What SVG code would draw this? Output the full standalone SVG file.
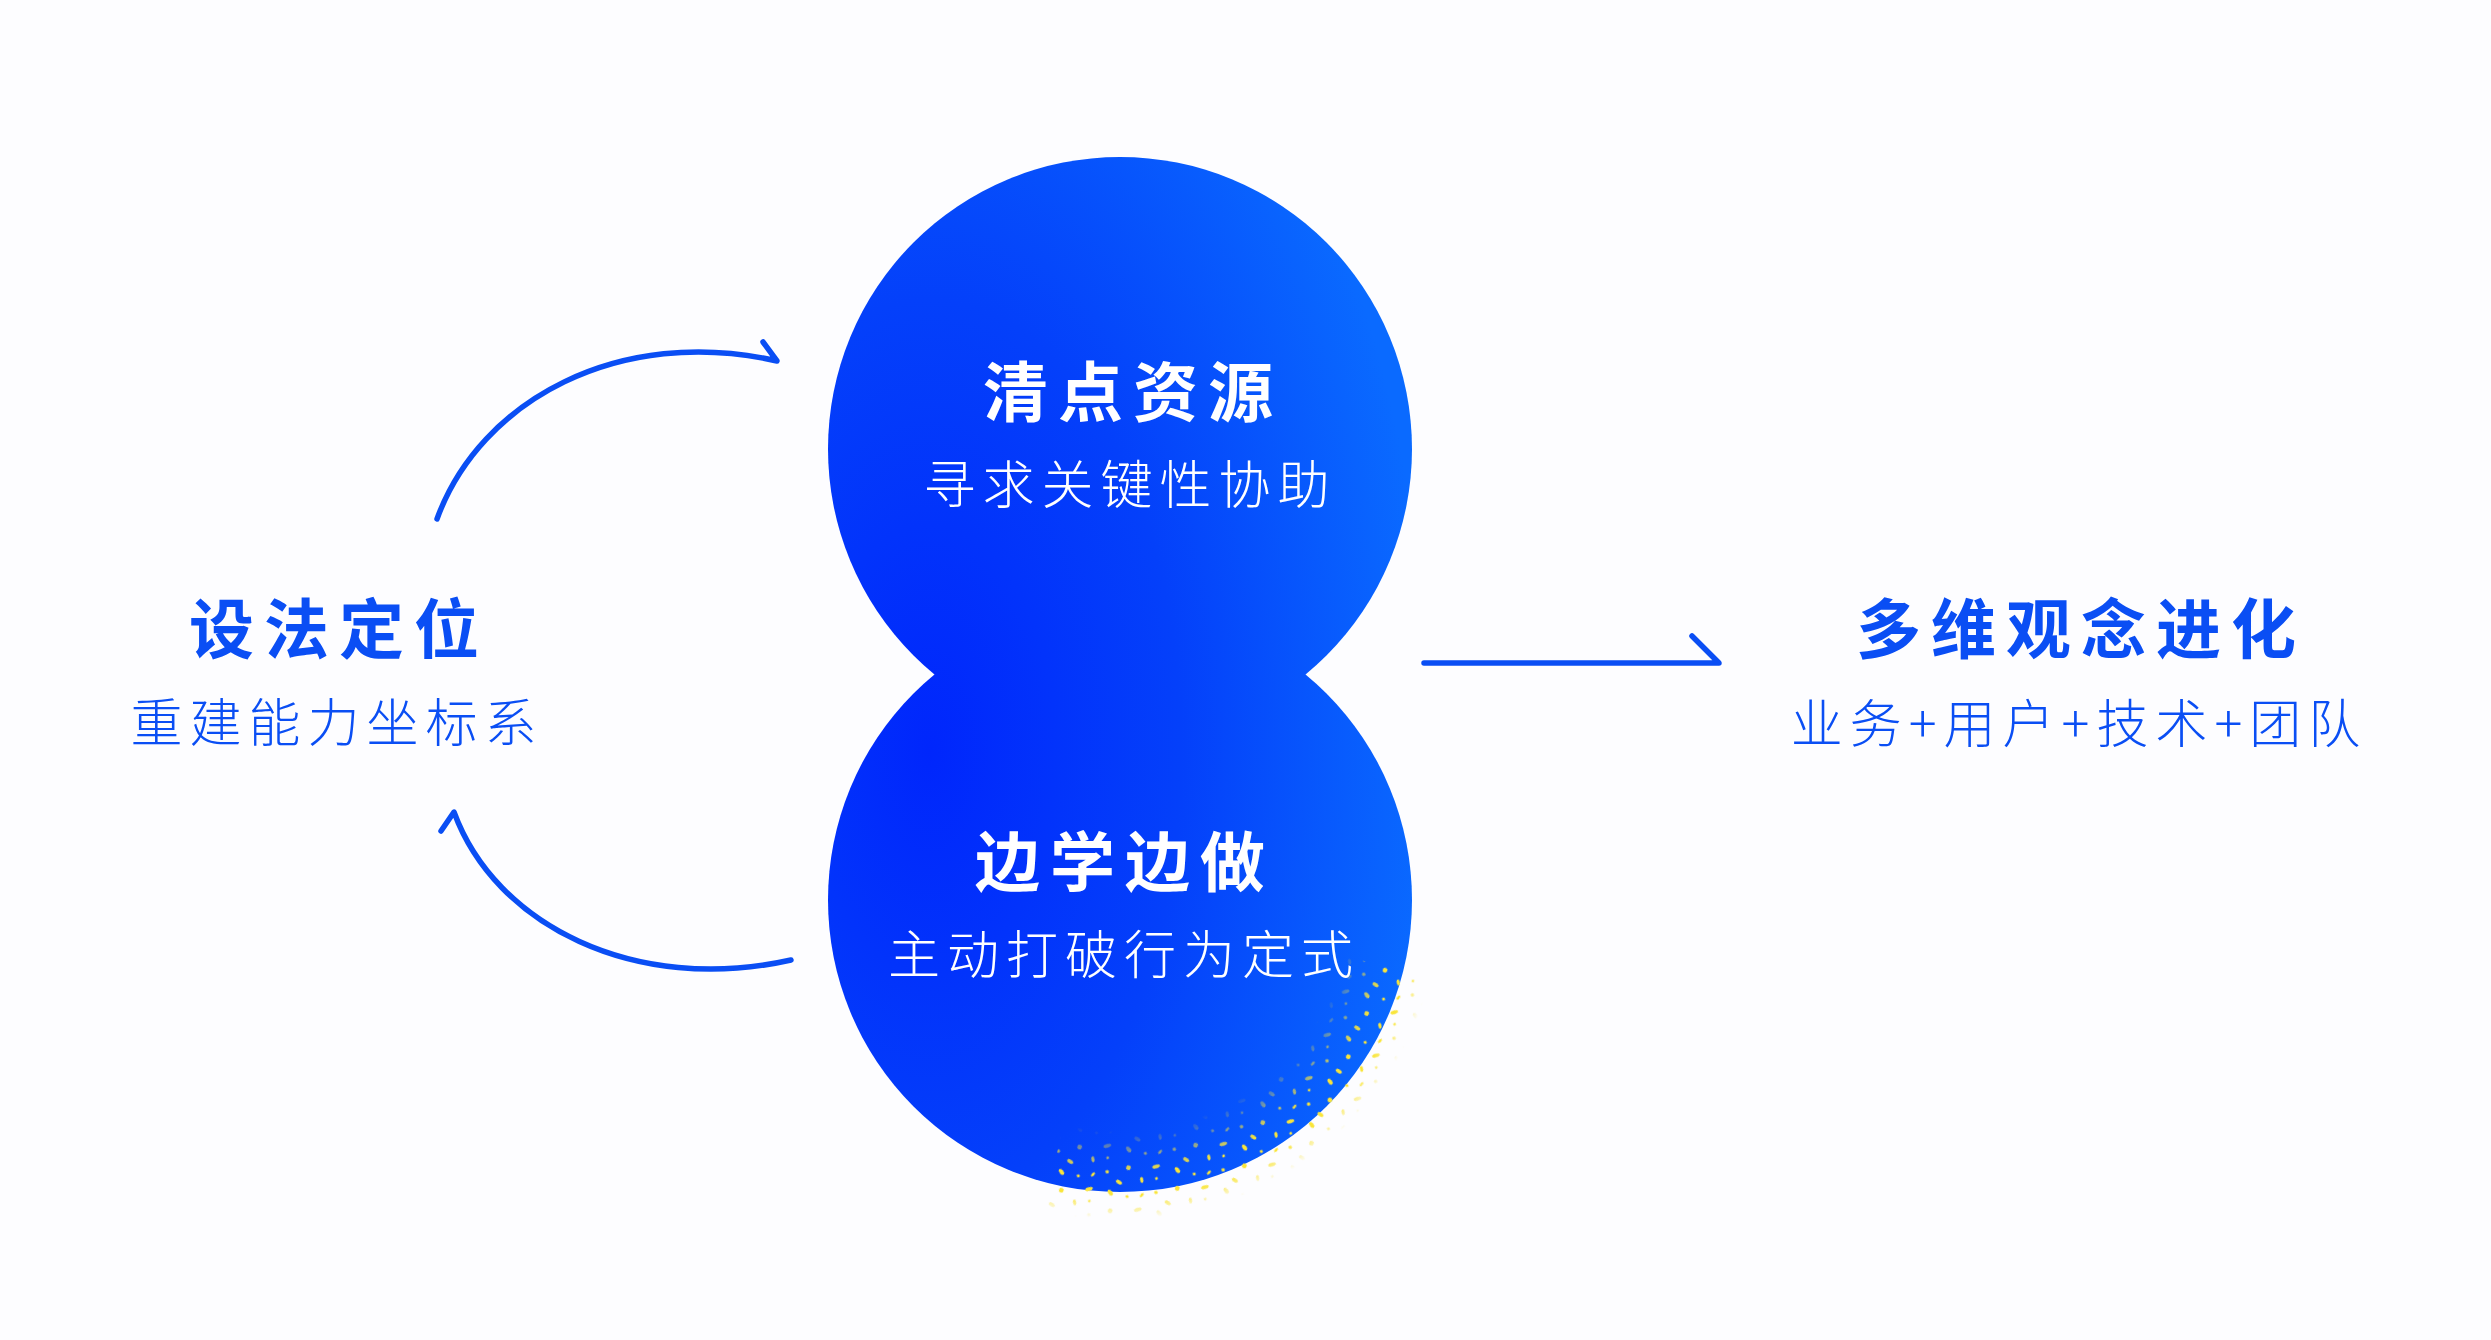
<svg xmlns="http://www.w3.org/2000/svg" width="2491" height="1340" viewBox="0 0 2491 1340">
  <style>
    .cjk { font-family: "Noto Sans CJK SC", "Noto Sans", sans-serif; text-anchor: middle; }
    .title { font-size: 65px; font-weight: 700; letter-spacing: 10px; }
    .sub { font-size: 52px; font-weight: 300; letter-spacing: 7px; }
    .white { fill: #ffffff; }
    .blue { fill: #0a4ef4; }
    .conn { fill: none; stroke: #0a4ef4; stroke-width: 5.5; stroke-linecap: round; stroke-linejoin: round; }
    .dot { fill: #f9e53a; }
  </style>
  <defs>
    <radialGradient id="blob" gradientUnits="userSpaceOnUse" cx="930" cy="750" r="500" gradientTransform="translate(930 750) scale(1 1.8) translate(-930 -750)">
      <stop offset="0" stop-color="#0026fc"/>
      <stop offset="0.5" stop-color="#0440fa"/>
      <stop offset="1" stop-color="#0a6aff"/>
    </radialGradient>
    <pattern id="dots" patternUnits="userSpaceOnUse" width="53" height="47" patternTransform="rotate(23)">
      <ellipse class="dot" cx="4" cy="6" rx="3.4" ry="2" transform="rotate(30 4 6)"/>
      <circle class="dot" cx="21" cy="3" r="1.6"/>
      <ellipse class="dot" cx="36" cy="11" rx="4" ry="1.8" transform="rotate(-40 36 11)"/>
      <circle class="dot" cx="11" cy="23" r="2.4"/>
      <ellipse class="dot" cx="28" cy="29" rx="3" ry="1.6" transform="rotate(60 28 29)"/>
      <circle class="dot" cx="46" cy="35" r="1.8"/>
      <ellipse class="dot" cx="8" cy="40" rx="3.4" ry="1.8" transform="rotate(10 8 40)"/>
      <circle class="dot" cx="41" cy="22" r="1.4"/>
      <ellipse class="dot" cx="34" cy="43" rx="2.6" ry="1.3" transform="rotate(-70 34 43)"/>
    </pattern>
    <radialGradient id="ringFade" gradientUnits="userSpaceOnUse" cx="1120" cy="900" r="330">
      <stop offset="0.70" stop-color="#000"/>
      <stop offset="0.83" stop-color="#fff"/>
      <stop offset="0.90" stop-color="#fff"/>
      <stop offset="0.97" stop-color="#000"/>
    </radialGradient>
    <mask id="ringMask" maskUnits="userSpaceOnUse" x="0" y="0" width="2491" height="1340">
      <rect x="0" y="0" width="2491" height="1340" fill="url(#ringFade)"/>
    </mask>
    <clipPath id="sector">
      <polygon points="1120,900 1557,1009 1560,1340 1011,1337"/>
    </clipPath>
  </defs>

  <rect x="0" y="0" width="2491" height="1340" fill="#fdfdff"/>

  <g id="shape">
    <circle cx="1120" cy="449" r="292" fill="url(#blob)"/>
    <circle cx="1120" cy="900" r="292" fill="url(#blob)"/>
    <g clip-path="url(#sector)">
      <rect x="900" y="850" width="700" height="490" fill="url(#dots)" mask="url(#ringMask)"/>
    </g>
  </g>

  <g id="node-top">
    <text class="cjk title white" x="1133" y="416">清点资源</text>
    <text class="cjk sub white" x="1130" y="504">寻求关键性协助</text>
  </g>

  <g id="node-bottom">
    <text class="cjk title white" x="1125" y="886">边学边做</text>
    <text class="cjk sub white" x="1124" y="974">主动打破行为定式</text>
  </g>

  <g id="node-left">
    <text class="cjk title blue" x="339" y="653">设法定位</text>
    <text class="cjk sub blue" x="337" y="742">重建能力坐标系</text>
  </g>

  <g id="node-right">
    <text class="cjk title blue" x="2081" y="653">多维观念进化</text>
    <text class="cjk sub blue" x="2079" y="743">业务+用户+技术+团队</text>
  </g>

  <g id="connectors">
    <path class="conn" d="M437 519 C480 400 620 325 777 361 L763 342"/>
    <path class="conn" d="M791 960 C635 995 495 925 454 812 L441 831"/>
    <path class="conn" d="M1424 663 L1719 663 L1692 636"/>
  </g>
</svg>
